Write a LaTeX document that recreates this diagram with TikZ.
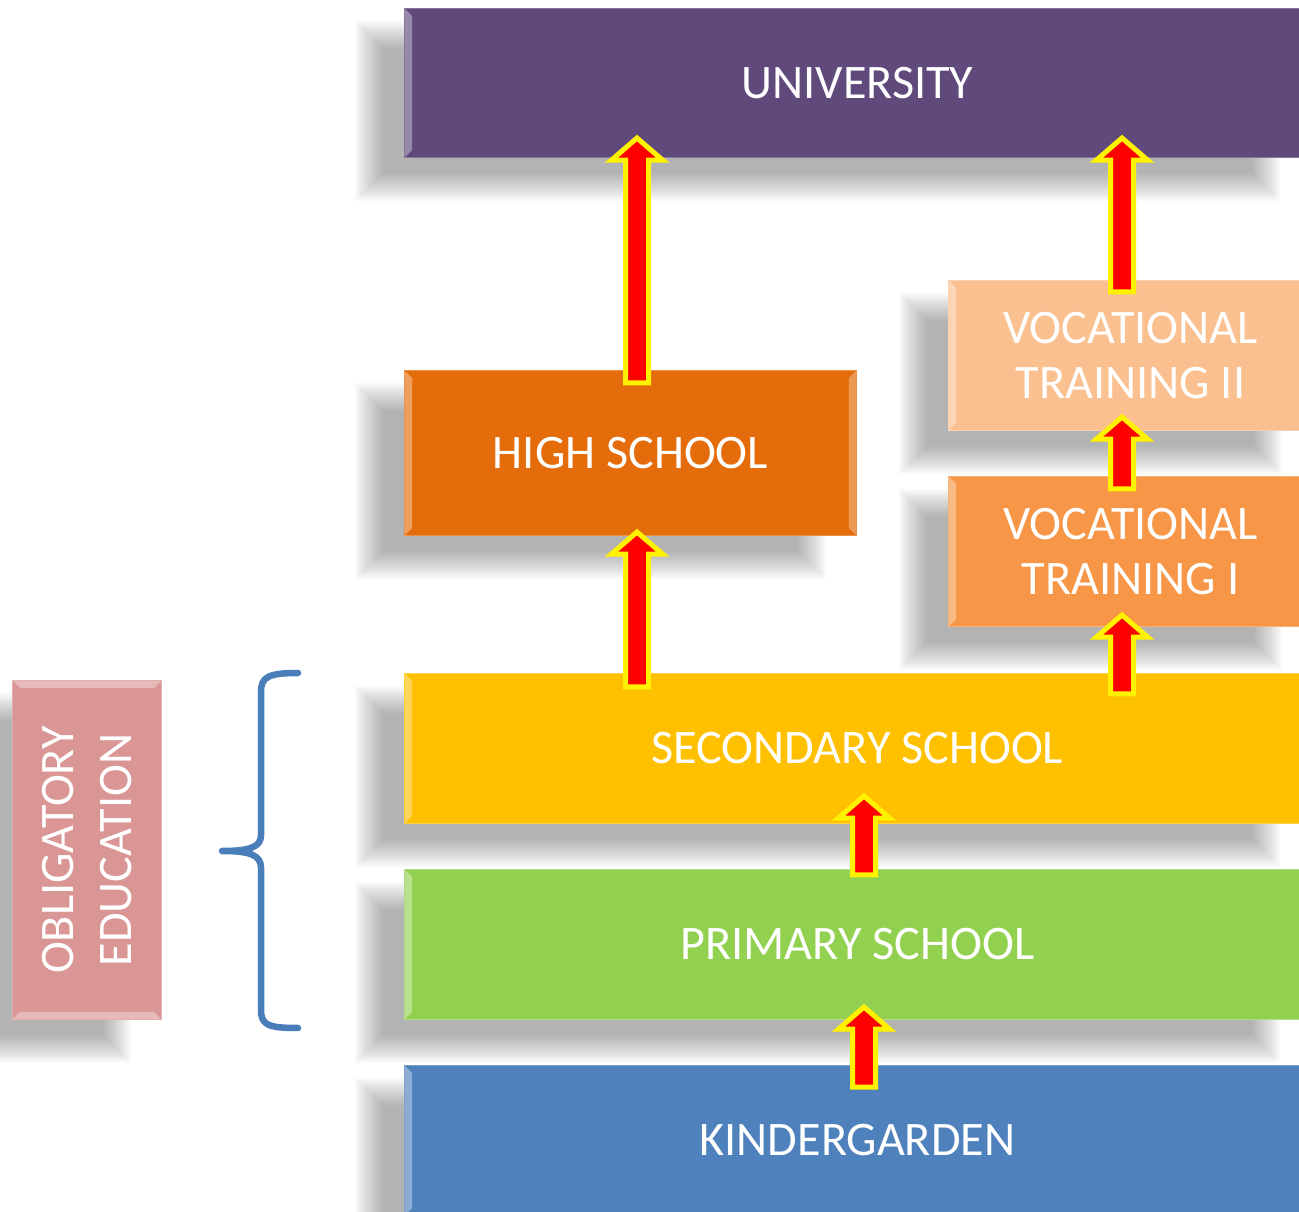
\documentclass[tikz,border=0pt]{standalone}
\usepackage{fontspec}
\setmainfont{Carlito}
\usetikzlibrary{calc}
\definecolor{cuniv}{HTML}{604A7B}
\definecolor{chs}{HTML}{E46C0A}
\definecolor{cvtb}{HTML}{FAC090}
\definecolor{cvta}{HTML}{F79646}
\definecolor{csec}{HTML}{FFC000}
\definecolor{cprim}{HTML}{92D050}
\definecolor{ckind}{HTML}{4F81BD}
\definecolor{cobl}{HTML}{D99694}
\definecolor{cbrace}{HTML}{4A7EBB}
\pgfdeclarelayer{background}
\pgfsetlayers{background,main}
\tikzset{
  ebox/.style={rectangle, anchor=north west, inner sep=0pt, text=white,
    align=center, font=\fontsize{27.4}{31.5}\selectfont,
    fill=#1, draw=#1!75!white, line width=0.6pt,
    path picture={
      \fill[white,opacity=0.35] (path picture bounding box.north west)
        -- ([shift={(0.15cm,-0.15cm)}]path picture bounding box.north west)
        -- ([shift={(0.15cm,0.15cm)}]path picture bounding box.south west)
        -- (path picture bounding box.south west) -- cycle;
      \fill[white,opacity=0.3] (path picture bounding box.north east)
        -- ([shift={(-0.15cm,-0.15cm)}]path picture bounding box.north east)
        -- ([shift={(-0.15cm,0.15cm)}]path picture bounding box.south east)
        -- (path picture bounding box.south east) -- cycle;}},
  oblbox/.style={rectangle, anchor=north west, inner sep=0pt,
    fill=#1, draw=#1!75!white, line width=0.6pt,
    path picture={
      \fill[white,opacity=0.35] (path picture bounding box.north west)
        -- ([shift={(0.15cm,-0.15cm)}]path picture bounding box.north west)
        -- ([shift={(-0.15cm,-0.15cm)}]path picture bounding box.north east)
        -- (path picture bounding box.north east) -- cycle;
      \fill[white,opacity=0.35] (path picture bounding box.south west)
        -- ([shift={(0.15cm,0.15cm)}]path picture bounding box.south west)
        -- ([shift={(-0.15cm,0.15cm)}]path picture bounding box.south east)
        -- (path picture bounding box.south east) -- cycle;}},
  labeltext/.style={text=white, align=center, inner sep=0pt,
    font=\fontsize{27.4}{33}\selectfont},
  barrow/.style={fill=red, draw=yellow, line width=0.1cm, line join=miter,
    to path={let \p1=(\tikztostart), \p2=(\tikztotarget) in
      (\x1-0.23cm,\y1) -- (\x1-0.23cm,\y2-0.44cm) -- (\x1-0.51cm,\y2-0.44cm)
      -- (\x1,\y2) -- (\x1+0.51cm,\y2-0.44cm) -- (\x1+0.23cm,\y2-0.44cm)
      -- (\x1+0.23cm,\y1) -- cycle}},
  bracestyle/.style={draw=cbrace, line width=0.13cm, line cap=round, line join=round},
  shadowlayer/.style={fill=black, opacity=0.024}
}
\begin{document}
\begin{tikzpicture}[x=0.02cm,y=-0.02cm]
\useasboundingbox (0,0) rectangle (1299,1212);

% boxes
\node[ebox=cuniv, minimum width=18.12cm, minimum height=2.98cm] (univ) at (404,8) {UNIVERSITY};
\node[ebox=chs, minimum width=9.04cm, minimum height=3.3cm] (hs) at (404,370) {HIGH SCHOOL};
\node[ebox=cvtb, minimum width=7.28cm, minimum height=3.0cm] (vtb) at (948,280) {VOCATIONAL\\TRAINING II};
\node[ebox=cvta, minimum width=7.28cm, minimum height=3.0cm] (vta) at (948,476) {VOCATIONAL\\TRAINING I};
\node[ebox=csec, minimum width=18.12cm, minimum height=3.0cm] (sec) at (404,673) {SECONDARY SCHOOL};
\node[ebox=cprim, minimum width=18.12cm, minimum height=3.0cm] (prim) at (404,869) {PRIMARY SCHOOL};
\node[ebox=ckind, minimum width=18.12cm, minimum height=3.0cm] (kind) at (404,1065) {KINDERGARDEN};
\node[oblbox=cobl, minimum width=2.98cm, minimum height=6.78cm] (obl) at (12,680) {};
\node[labeltext, rotate=90] (obltext) at (obl.center) {OBLIGATORY\\EDUCATION};

% shadows
\begin{pgfonlayer}{background}
\foreach \n in {univ,hs,vtb,vta,sec,prim,kind,obl}{
  \foreach \k in {-14,-12,...,14}{
    \fill[shadowlayer] ([shift={(-35-\k,27-\k)}]\n.north west) rectangle ([shift={(-45+\k,29+\k)}]\n.south east);
  }
}
\end{pgfonlayer}

% brace
\draw[bracestyle] ([shift={(136,-7)}]obl.north east)
  .. controls ([shift={(106,-7)}]obl.north east) and ([shift={(99,-3)}]obl.north east) .. ([shift={(99,12)}]obl.north east)
  -- ([shift={(99,155)}]obl.north east)
  .. controls ([shift={(99,167)}]obl.north east) and ([shift={(88,171)}]obl.north east) .. ([shift={(60,171)}]obl.north east)
  .. controls ([shift={(88,171)}]obl.north east) and ([shift={(99,175)}]obl.north east) .. ([shift={(99,188)}]obl.north east)
  -- ([shift={(99,330)}]obl.north east)
  .. controls ([shift={(99,345)}]obl.north east) and ([shift={(106,348)}]obl.north east) .. ([shift={(136,348)}]obl.north east);

% arrows
\draw[barrow] ([shift={(233,13)}]hs.north west) to ([shift={(233,-20)}]univ.south west);
\draw[barrow] ([shift={(174,12)}]vtb.north west) to ([shift={(718,-20)}]univ.south west);
\draw[barrow] ([shift={(233,14)}]sec.north west) to ([shift={(233,-4)}]hs.south west);
\draw[barrow] ([shift={(174,13)}]vta.north west) to ([shift={(174,-14)}]vtb.south west);
\draw[barrow] ([shift={(718,21)}]sec.north west) to ([shift={(174,-12)}]vta.south west);
\draw[barrow] ([shift={(460,6)}]prim.north west) to ([shift={(460,-28)}]sec.south west);
\draw[barrow] ([shift={(460,22)}]kind.north west) to ([shift={(460,-13)}]prim.south west);
\end{tikzpicture}
\end{document}
